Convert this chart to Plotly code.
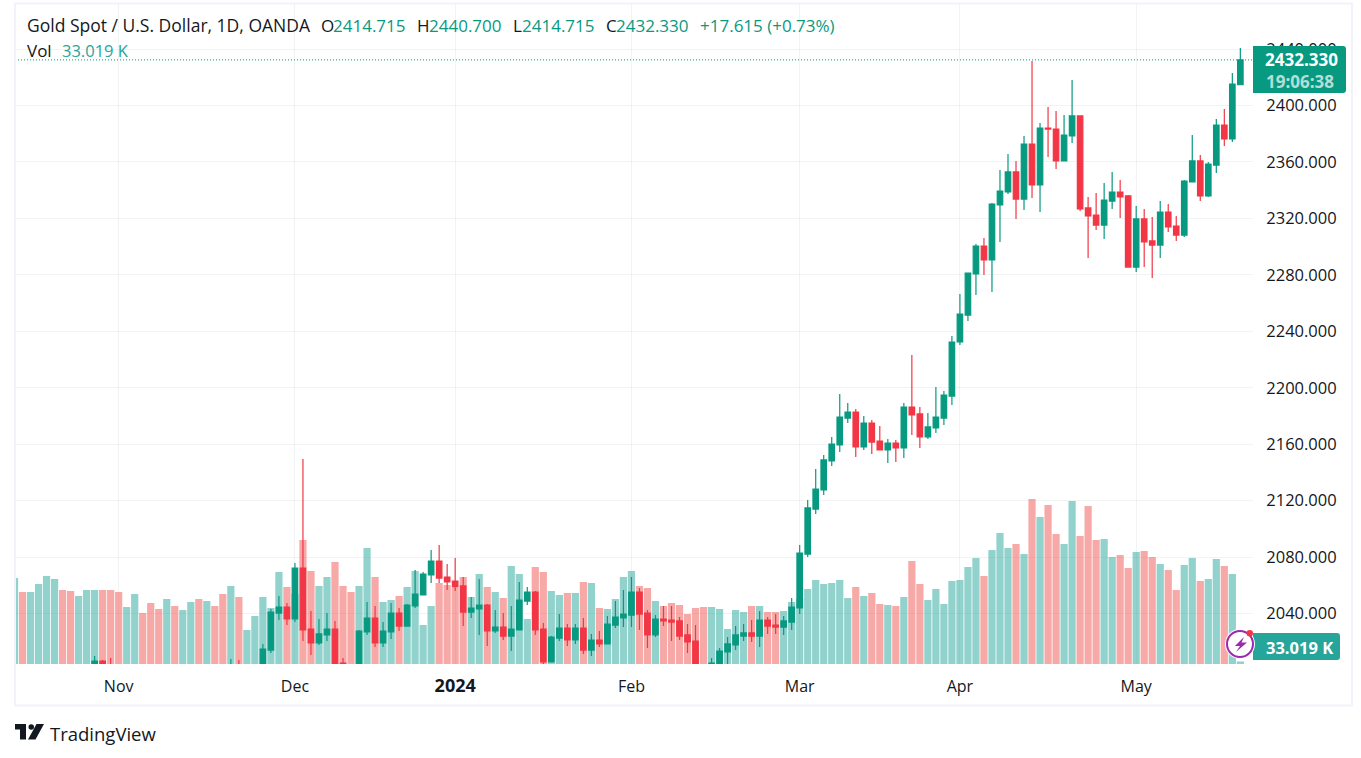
import pandas as pd
import plotly.graph_objects as go

# Gold Spot / USD daily candles (bars under 2004 are off the pane, estimated)
HOLIDAYS = ["2023-12-25", "2024-01-01", "2024-03-29"]
dates = [d.strftime("%Y-%m-%d") for d in pd.bdate_range("2023-10-13", "2024-05-20") if d.strftime("%Y-%m-%d") not in HOLIDAYS]

opens = [
    1868, 1932, 1920, 1923, 1947, 1961, 1974, 1972, 1970, 1980,
    1985, 2006.3, 1996, 1983, 1982, 1985, 1992, 1970, 1955, 1950,
    1958, 1940, 1945, 1965, 1960, 1982, 1985, 1982, 1995, 1990,
    1995, 2002, 2014.1, 2040.3, 2044.6, 2036.1, 2072.2, 2029.0, 2019.1, 2024.8,
    2029.0, 2004.9, 1982, 1980, 2026.9, 2036.8, 2019.1, 2026.9, 2040.3, 2031.1,
    2045.3, 2053.1, 2067.3, 2077.2, 2065.8, 2063.0, 2059.5, 2041.0, 2043.2, 2046.0,
    2027.6, 2030.4, 2024.0, 2028.3, 2048.8, 2055.2, 2029.0, 2005.6, 2022.6, 2029.7,
    2021.2, 2029.7, 2014.1, 2021.2, 2018.4, 2031.8, 2036.8, 2038.9, 2055.2, 2040.3,
    2024.8, 2036.1, 2035.4, 2034.7, 2024.8, 2020.5, 1998, 1992, 2004.0, 2012.7,
    2017.7, 2024.0, 2026.2, 2024.0, 2035.4, 2031.8, 2030.4, 2033.9, 2043.9, 2082.1,
    2114.0, 2127.5, 2148.1, 2159.4, 2178.5, 2182.8, 2158.0, 2175.0, 2162.2, 2155.9,
    2160.8, 2157.3, 2186.3, 2181.4, 2165.1, 2171.5, 2178.5, 2194.1, 2232.4, 2251.5,
    2280.6, 2300.4, 2290.5, 2329.5, 2338.7, 2352.9, 2333.7, 2372.7, 2343.7, 2384.0,
    2383.3, 2360.7, 2378.4, 2392.6, 2327.4, 2322.4, 2315.3, 2332.3, 2338.7, 2335.9,
    2285.5, 2319.6, 2304.0, 2301.1, 2324.5, 2314.6, 2308.2, 2345.8, 2360.7, 2335.9,
    2357.8, 2386.2, 2376.3, 2414.715,
]
highs = [
    1933, 1937, 1926, 1962, 1962, 1975, 1997, 1978, 1983, 1992,
    2009.9, 2007, 2008.4, 1992, 1993, 2000, 1993, 1972, 1958, 1965,
    1962, 1950, 1970, 1968, 1985, 1995, 1992, 2007.8, 2007, 2000,
    2003, 2018.4, 2043.2, 2052.4, 2047.4, 2075.8, 2149.5, 2041.8, 2036.1, 2040.3,
    2034.7, 2008.4, 1995, 2028.3, 2048.1, 2045.3, 2033.9, 2047.4, 2043.9, 2046.7,
    2070.8, 2069.4, 2085.0, 2088.5, 2075.1, 2079.3, 2065.8, 2051.7, 2064.4, 2046.7,
    2042.5, 2040.3, 2045.3, 2062.3, 2058.8, 2055.9, 2033.2, 2024.0, 2039.6, 2032.5,
    2032.5, 2036.8, 2025.5, 2027.6, 2038.2, 2048.8, 2056.6, 2065.8, 2058.0, 2042.5,
    2038.9, 2045.3, 2045.3, 2037.5, 2032.5, 2031.8, 2002, 2008.4, 2015.6, 2023.3,
    2031.1, 2032.5, 2035.4, 2041.8, 2037.5, 2039.6, 2038.2, 2051.0, 2088.5, 2120.4,
    2142.4, 2152.3, 2165.1, 2195.5, 2189.2, 2184.9, 2180.0, 2177.1, 2172.9, 2163.6,
    2162.9, 2189.2, 2223.2, 2186.3, 2182.1, 2200.5, 2197.7, 2236.6, 2266.4, 2281.3,
    2301.8, 2306.1, 2330.9, 2354.3, 2365.6, 2360.7, 2378.4, 2431.5, 2387.6, 2398.9,
    2396.1, 2393.3, 2418.1, 2392.6, 2335.2, 2338.0, 2345.1, 2352.9, 2347.2, 2336.6,
    2328.8, 2326.7, 2321.0, 2332.3, 2330.2, 2321.7, 2347.2, 2379.1, 2364.9, 2360.0,
    2390.4, 2397.5, 2423.0, 2440.7,
]
lows = [
    1866, 1908, 1915, 1921, 1940, 1959, 1965, 1962, 1964, 1975,
    1982, 1990, 1980, 1970, 1978, 1979, 1965, 1950, 1945, 1947,
    1935, 1932, 1938, 1955, 1958, 1978, 1975, 1978, 1985, 1985,
    1990, 1998, 2012.0, 2035.4, 2031.8, 2033.9, 2020.5, 2010.6, 2017.7, 2020.5,
    1995, 1975, 1975, 1975, 2024.8, 2016.3, 2016.3, 2021.9, 2027.6, 2031.1,
    2043.9, 2053.1, 2061.6, 2061.6, 2056.6, 2055.9, 2031.1, 2036.8, 2024.8, 2017.0,
    2026.2, 2021.2, 2013.4, 2028.3, 2046.0, 2024.8, 2003.5, 2005.6, 2020.5, 2017.0,
    2018.4, 2011.3, 2009.9, 2016.3, 2018.4, 2029.7, 2030.4, 2030.4, 2028.3, 2015.6,
    2023.3, 2031.1, 2020.5, 2021.2, 2012.0, 1990, 1985, 1988, 2001, 2004.2,
    2014.1, 2020.5, 2019.8, 2016.3, 2025.5, 2025.5, 2024.8, 2028.3, 2039.6, 2080.0,
    2110.5, 2124.0, 2144.5, 2154.4, 2175.0, 2150.9, 2155.9, 2153.0, 2155.9, 2146.6,
    2147.4, 2150.2, 2166.5, 2157.3, 2163.6, 2167.9, 2173.6, 2187.8, 2230.3, 2247.3,
    2265.7, 2279.9, 2267.8, 2303.3, 2337.3, 2319.6, 2326.0, 2334.4, 2324.5, 2363.5,
    2355.0, 2360.7, 2373.4, 2325.2, 2291.9, 2311.8, 2305.4, 2326.7, 2320.3, 2285.5,
    2282.0, 2285.5, 2277.8, 2291.9, 2310.3, 2304.0, 2306.8, 2345.8, 2332.3, 2335.2,
    2352.2, 2371.3, 2374.1, 2414.715,
]
closes = [
    1932, 1920, 1923, 1947, 1961, 1974, 1972, 1970, 1980, 1985,
    2006.3, 1996, 1983, 1982, 1985, 1992, 1970, 1955, 1950, 1958,
    1940, 1945, 1965, 1960, 1982, 1980, 1982, 1995, 1990, 1995,
    2001, 2014.8, 2041.0, 2044.6, 2036.1, 2072.2, 2028.3, 2019.1, 2025.5, 2029.0,
    2003.5, 1982, 1980, 2027.6, 2036.8, 2019.1, 2027.6, 2040.3, 2031.1, 2046.0,
    2053.8, 2068.0, 2077.2, 2065.1, 2062.3, 2058.8, 2041.0, 2043.9, 2046.0, 2027.6,
    2030.4, 2024.0, 2029.0, 2049.5, 2055.2, 2028.3, 2005.6, 2023.3, 2029.7, 2021.2,
    2029.7, 2014.1, 2021.2, 2018.4, 2032.5, 2037.5, 2039.6, 2055.2, 2039.6, 2024.8,
    2036.1, 2034.7, 2033.9, 2024.0, 2019.8, 1998, 1992, 2004.9, 2013.4, 2018.4,
    2024.8, 2026.2, 2024.0, 2035.4, 2031.1, 2030.4, 2034.7, 2044.6, 2082.8, 2114.8,
    2128.2, 2148.8, 2160.1, 2179.2, 2182.8, 2158.0, 2175.0, 2161.5, 2155.9, 2160.8,
    2157.3, 2186.3, 2180.7, 2165.1, 2172.2, 2179.2, 2194.8, 2232.4, 2252.2, 2281.3,
    2300.4, 2290.5, 2330.2, 2339.4, 2352.9, 2333.7, 2372.7, 2343.7, 2384.0, 2383.3,
    2360.7, 2379.1, 2392.6, 2326.7, 2321.7, 2315.3, 2333.0, 2338.7, 2335.2, 2285.5,
    2319.6, 2303.3, 2301.1, 2324.5, 2313.9, 2308.2, 2346.5, 2360.7, 2335.9, 2358.5,
    2386.2, 2376.3, 2415.2, 2432.33,
]
# volume in thousands
volumes = [
    1118, 936, 936, 1040, 1144, 1105, 962, 949, 884, 962,
    962, 962, 962, 936, 741, 910, 663, 793, 715, 845,
    754, 702, 806, 845, 819, 754, 910, 1014, 871, 442,
    624, 871, 728, 1196, 1001, 910, 1612, 1209, 1014, 1131,
    1326, 1014, 936, 1014, 1508, 1131, 806, 832, 884, 1001,
    1209, 507, 754, 1053, 1027, 988, 1131, 871, 1170, 1001,
    936, 858, 1274, 1170, 585, 1261, 1196, 949, 897, 923,
    923, 1066, 1053, 728, 715, 845, 1131, 1209, 1014, 988,
    819, 754, 793, 767, 650, 728, 741, 741, 715, 455,
    702, 676, 754, 754, 676, 676, 689, 806, 845, 975,
    1092, 1040, 1053, 1092, 858, 1001, 884, 923, 780, 767,
    754, 871, 1339, 1040, 832, 975, 780, 1079, 1092, 1261,
    1378, 1144, 1482, 1703, 1508, 1560, 1430, 2145, 1911, 2067,
    1690, 1560, 2119, 1664, 2054, 1612, 1625, 1391, 1417, 1248,
    1456, 1469, 1391, 1300, 1222, 962, 1287, 1378, 1079, 1105,
    1365, 1274, 1170, 33.019,
]

month_dates = ["2023-11-01", "2023-12-01", "2024-01-02", "2024-02-01", "2024-03-01", "2024-04-01", "2024-05-01"]
month_labels = ["Nov", "Dec", '<span style="font-size:18px"><b>2024</b></span>', "Feb", "Mar", "Apr", "May"]
price_ticks = [2040, 2080, 2120, 2160, 2200, 2240, 2280, 2320, 2360, 2400, 2440]

UP = "#089981"
DOWN = "#f23645"
VOL_UP = "rgba(38,166,154,0.5)"
VOL_DOWN = "rgba(239,83,80,0.5)"
VOL_LABEL = "#26a69a"
INK = "#131722"
GRID = "rgba(42,46,57,0.06)"
BORDER = "#f0f3fa"
FONT = "Open Sans"

# pane edges in page pixels
LEFT, RIGHT, TOP, BOTTOM = 15, 1253, 4, 664


def px(x):
    return (x - LEFT) / (RIGHT - LEFT)


def py(y):
    return (BOTTOM - y) / (BOTTOM - TOP)


def label(x, y, text, color=INK, size=17, anchor="left", weight=None):
    if weight:
        text = f"<b>{text}</b>"
    # annotations sit about 2px right of the anchor
    shift = -2 if anchor == "left" else 0
    return dict(x=px(x), y=py(y), xref="paper", yref="paper", text=text, showarrow=False, xshift=shift,
                xanchor=anchor, yanchor="middle", font=dict(family=FONT, size=size, color=color))


def page_path(d, fill):
    return dict(type="path", xref="paper", yref="paper", path=d, fillcolor=fill, line=dict(width=0, color=fill), layer="above")


def pts(*xy):
    return " ".join(f"{'M' if i == 0 else 'L'}{px(x):.5f},{py(y):.5f}" for i, (x, y) in enumerate(xy)) + " Z"


def tag(x0, x1, y0, y1, fill):
    # flat on the axis side, rounded on the other
    r = 3
    d = (f"M{px(x0):.5f},{py(y0):.5f} L{px(x1 - r):.5f},{py(y0):.5f} "
         f"Q{px(x1):.5f},{py(y0):.5f} {px(x1):.5f},{py(y0 + r):.5f} "
         f"L{px(x1):.5f},{py(y1 - r):.5f} Q{px(x1):.5f},{py(y1):.5f} {px(x1 - r):.5f},{py(y1):.5f} "
         f"L{px(x0):.5f},{py(y1):.5f} Z")
    return page_path(d, fill)


vol_colors = [VOL_UP if c >= o else VOL_DOWN for o, c in zip(opens, closes)]

fig = go.Figure()
fig.add_trace(go.Bar(x=dates, y=volumes, yaxis="y", marker=dict(color=vol_colors, line=dict(width=0)), hoverinfo="skip"))
fig.add_trace(go.Candlestick(
    x=dates, open=opens, high=highs, low=lows, close=closes, yaxis="y2", whiskerwidth=0,
    increasing=dict(line=dict(color=UP, width=1.2), fillcolor=UP),
    decreasing=dict(line=dict(color=DOWN, width=1.2), fillcolor=DOWN),
))

shapes = [
    dict(type="line", xref="paper", yref="y2", x0=0, x1=1, y0=closes[-1], y1=closes[-1],
         line=dict(color=UP, width=1, dash="1px,2px"), layer="above"),
    # outer frame
    dict(type="rect", xref="paper", yref="paper", x0=px(15), x1=px(1352), y0=py(3.5), y1=py(705.5),
         line=dict(color=BORDER, width=2), layer="above"),
    # last price and volume tags
    tag(1253, 1346, 46, 93, UP),
    tag(1253, 1340, 633, 660, VOL_LABEL),
    # bolt badge
    dict(type="circle", xref="paper", yref="paper", x0=px(1225), x1=px(1255), y0=py(629), y1=py(659),
         fillcolor="white", line=dict(width=0), layer="above"),
    dict(type="circle", xref="paper", yref="paper", x0=px(1227), x1=px(1253), y0=py(631), y1=py(657),
         fillcolor="white", line=dict(color="#9c27b0", width=2), layer="above"),
    page_path(pts((1244, 637), (1235, 646), (1240, 646), (1236, 652), (1247, 642.5), (1241.5, 642.5)), "#9c27b0"),
    dict(type="circle", xref="paper", yref="paper", x0=px(1246.5), x1=px(1253), y0=py(630), y1=py(636.5),
         fillcolor=DOWN, line=dict(width=0), layer="above"),
    # TradingView mark
    page_path(pts((15, 724), (26, 724), (26, 739.5), (20, 739.5), (20, 729.5), (15, 729.5)), INK),
    dict(type="circle", xref="paper", yref="paper", x0=px(28.5), x1=px(34), y0=py(724.2), y1=py(729.7),
         fillcolor=INK, line=dict(width=0), layer="above"),
    page_path(pts((36.5, 724), (44, 724), (35.5, 739.5), (28, 739.5)), INK),
]

annotations = [
    label(27, 25, "Gold Spot / U.S. Dollar, 1D, OANDA", size=17.5),
    label(321, 25, "O"), label(333, 25, "2414.715", UP),
    label(417, 25, "H"), label(429, 25, "2440.700", UP),
    label(513, 25, "L"), label(522, 25, "2414.715", UP),
    label(606, 25, "C"), label(616, 25, "2432.330", UP),
    label(700, 25, "+17.615 (+0.73%)", UP),
    label(27, 50, "Vol"), label(62, 50, "33.019 K", VOL_LABEL, 16.5),
    label(1301, 60, "2432.330", "white", 17, "center", True),
    label(1300, 81, "19:06:38", "rgba(255,255,255,0.7)", 17, "center", True),
    label(1299.5, 647, "33.019 K", "white", 16.5, "center", True),
    label(50, 733, "TradingView", INK, 18.5),
]

fig.update_layout(
    width=1361, height=758,
    margin=dict(l=LEFT, r=1361 - RIGHT, t=TOP, b=758 - BOTTOM),
    paper_bgcolor="white", plot_bgcolor="white",
    showlegend=False, bargap=0.1, boxgap=0.02,
    font=dict(family=FONT, color=INK),
    shapes=shapes, annotations=annotations,
    xaxis=dict(
        type="category", categoryorder="array", categoryarray=dates,
        range=[0.06, 154.58], rangeslider=dict(visible=False),
        tickmode="array", tickvals=month_dates, ticktext=month_labels,
        ticks="outside", ticklen=8, tickcolor="rgba(0,0,0,0)",
        tickfont=dict(size=16, color=INK), showgrid=True, gridcolor=GRID, gridwidth=1,
        showline=False, zeroline=False,
    ),
    yaxis=dict(range=[0, 8580], visible=False, showgrid=False),
    yaxis2=dict(
        overlaying="y", side="right", anchor="x",
        range=[2004.2, 2471.94], tickmode="array", tickvals=price_ticks, tickformat=".3f",
        ticks="outside", ticklen=9, tickcolor="rgba(0,0,0,0)",
        tickfont=dict(size=16.5, color=INK), showgrid=True, gridcolor=GRID, gridwidth=1,
        showline=False, zeroline=False,
    ),
)

fig.write_html("out.html", config={"displayModeBar": False}, post_script="document.body.style.margin='0';")
